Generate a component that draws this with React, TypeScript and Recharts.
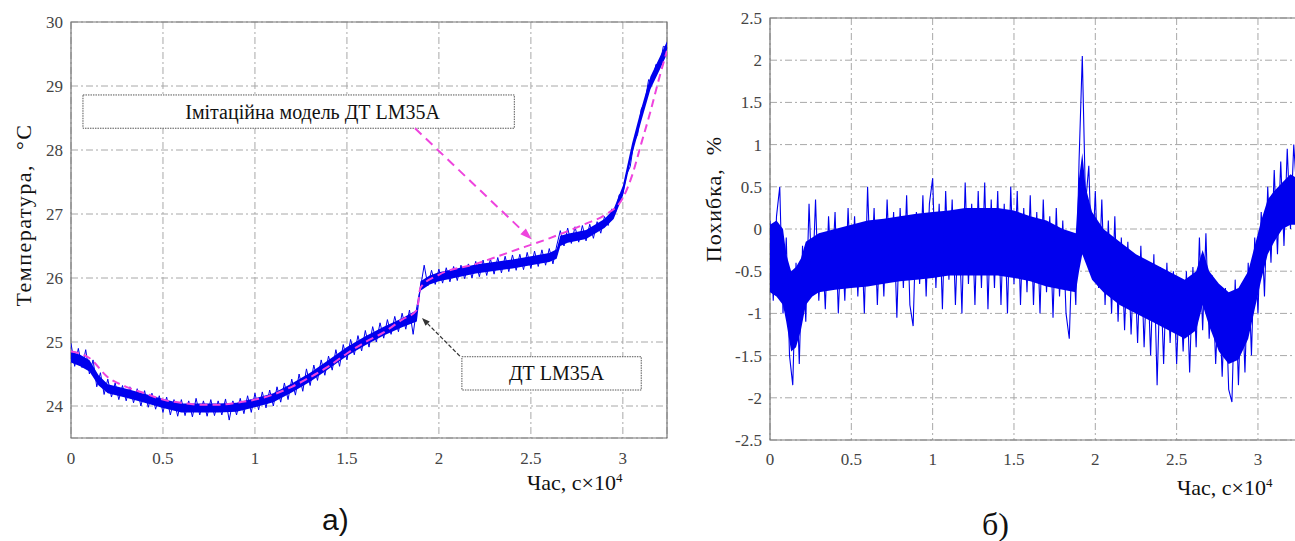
import {
  ComposedChart,
  Line,
  Area,
  XAxis,
  YAxis,
  CartesianGrid,
  ReferenceArea,
  ReferenceLine,
} from 'recharts'

// sampling step of the recorded signals (×10^4 s)
const SAMPLE_STEP = 0.02

const TIME_TICKS = [0, 0.5, 1, 1.5, 2, 2.5, 3]
const TEMP_TICKS = [24, 25, 26, 27, 28, 29, 30]
const ERR_TICKS = [-2.5, -2, -1.5, -1, -0.5, 0, 0.5, 1, 1.5, 2, 2.5]

// measured LM35A temperature, one row = 0.2 ×10^4 s
const measuredTemp = [
  24.98, 24.62, 24.9, 24.6, 24.88, 24.5, 24.72, 24.3, 24.52, 24.18,
  24.42, 24.14, 24.36, 24.1, 24.32, 24.08, 24.3, 24.05, 24.27, 24.0,
  24.24, 23.98, 24.2, 23.95, 24.16, 23.9, 24.14, 23.86, 24.1, 23.84,
  24.1, 23.85, 24.08, 23.83, 24.12, 23.86, 24.08, 23.84, 24.1, 23.85,
  24.08, 23.86, 24.11, 23.78, 24.08, 23.86, 24.12, 23.88, 24.16, 23.9,
  24.2, 23.94, 24.22, 23.97, 24.25, 24.0, 24.3, 24.06, 24.36, 24.1,
  24.42, 24.17, 24.5, 24.23, 24.58, 24.32, 24.64, 24.4, 24.72, 24.48,
  24.78, 24.56, 24.88, 24.62, 24.96, 24.72, 25.04, 24.8, 25.1, 24.86,
  25.18, 24.92, 25.24, 25.0, 25.3, 25.06, 25.35, 25.12, 25.4, 25.16,
  25.45, 25.2, 25.5, 25.12, 25.55, 25.85, 26.2, 25.88, 26.12, 25.9,
  26.14, 25.92, 26.16, 25.94, 26.18, 25.96, 26.2, 25.99, 26.22, 26.0,
  26.26, 26.02, 26.28, 26.04, 26.3, 26.06, 26.32, 26.08, 26.34, 26.1,
  26.36, 26.12, 26.37, 26.13, 26.4, 26.15, 26.42, 26.18, 26.44, 26.2,
  26.46, 26.22, 26.5, 26.74, 26.5, 26.78, 26.54, 26.8, 26.56, 26.82,
  26.58, 26.84, 26.62, 26.88, 26.7, 26.96, 26.82, 27.08, 27.02, 27.3,
  27.32, 27.62, 27.74, 28.12, 28.24, 28.64, 28.74, 29.1, 29.06, 29.34,
  29.3, 29.62, 29.6,
]

// dense core of the measured trace
const measBandTime = [
  0, 0.05, 0.1, 0.15, 0.2, 0.3, 0.4, 0.5, 0.6, 0.7, 0.8, 0.9, 1.0, 1.1, 1.2,
  1.3, 1.4, 1.5, 1.6, 1.7, 1.8, 1.88, 1.9, 1.95, 2.0, 2.2, 2.4, 2.6, 2.64, 2.66,
  2.7, 2.8, 2.9, 2.95, 3.0, 3.05, 3.1, 3.15, 3.2, 3.24,
]
const measBandLow = [
  24.68, 24.62, 24.54, 24.32, 24.2, 24.13, 24.05, 23.97, 23.9, 23.9, 23.9,
  23.91, 23.98, 24.06, 24.21, 24.38, 24.58, 24.78, 24.95, 25.1, 25.23, 25.32,
  25.8, 25.9, 25.95, 26.07, 26.15, 26.25, 26.3, 26.5, 26.55, 26.61, 26.78,
  26.92, 27.28, 27.92, 28.45, 28.95, 29.25, 29.5,
]
const measBandHigh = [
  24.85, 24.8, 24.72, 24.48, 24.34, 24.27, 24.19, 24.11, 24.04, 24.04, 24.04,
  24.05, 24.12, 24.2, 24.35, 24.52, 24.72, 24.92, 25.09, 25.24, 25.37, 25.5,
  25.95, 26.04, 26.09, 26.21, 26.29, 26.39, 26.45, 26.66, 26.69, 26.75, 26.92,
  27.08, 27.44, 28.1, 28.65, 29.15, 29.45, 29.7,
]

// simulation model output
const modelTime = [
  0, 0.1, 0.2, 0.3, 0.4, 0.5, 0.6, 0.7, 0.8, 0.9, 1.0, 1.1, 1.2, 1.3, 1.4, 1.5,
  1.6, 1.7, 1.8, 1.88, 1.9, 2.0, 2.2, 2.4, 2.6, 2.8, 2.9, 3.0, 3.05, 3.1, 3.15,
  3.2, 3.24,
]
const modelTemp = [
  24.85, 24.75, 24.45, 24.3, 24.2, 24.1, 24.05, 24.02, 24.02, 24.05, 24.1,
  24.18, 24.3, 24.45, 24.62, 24.82, 25.0, 25.15, 25.35, 25.5, 25.85, 26.05,
  26.22, 26.42, 26.62, 26.85, 26.98, 27.25, 27.6, 28.1, 28.6, 29.15, 29.55,
]

// error, dense core of the band
const errBandTime = [
  0, 0.04, 0.08, 0.1, 0.13, 0.16, 0.19, 0.22, 0.26, 0.3, 0.4, 0.5, 0.6, 0.7,
  0.8, 0.9, 1.0, 1.1, 1.2, 1.3, 1.4, 1.5, 1.6, 1.7, 1.8, 1.88, 1.9, 1.92, 1.94,
  1.98, 2.05, 2.15, 2.25, 2.35, 2.45, 2.55, 2.62, 2.66, 2.7, 2.76, 2.82, 2.88,
  2.94, 2.98, 3.02, 3.06, 3.1, 3.15, 3.2, 3.24,
]
const errBandLow = [
  -0.75, -0.8, -0.9, -1.1, -1.45, -1.4, -1.2, -0.9, -0.8, -0.75, -0.72, -0.7,
  -0.68, -0.65, -0.62, -0.6, -0.58, -0.55, -0.55, -0.55, -0.55, -0.58, -0.62,
  -0.68, -0.72, -0.75, -0.5, -0.3, -0.4, -0.6, -0.75, -0.9, -1.0, -1.1, -1.2,
  -1.3, -1.2, -0.9, -1.15, -1.45, -1.6, -1.55, -1.3, -0.95, -0.6, -0.3, -0.15,
  0.0, 0.05, 0.05,
]
const errBandHigh = [
  0.05, 0.1, 0.0, -0.3, -0.5, -0.45, -0.35, -0.15, -0.1, -0.05, 0.0, 0.05, 0.1,
  0.12, 0.15, 0.18, 0.2, 0.22, 0.25, 0.25, 0.25, 0.22, 0.15, 0.1, 0.0, -0.05,
  0.6, 0.9, 0.5, 0.2, 0.0, -0.15, -0.3, -0.4, -0.5, -0.6, -0.5, -0.25, -0.5,
  -0.65, -0.75, -0.7, -0.5, -0.2, 0.1, 0.35, 0.45, 0.55, 0.65, 0.6,
]

// error, spikes, one row = 0.2 ×10^4 s
const errSpikes = [
  0.1, -0.85, 0.15, 0.5, -1.0, -0.1, -1.5, -1.85, -0.4, -1.6,
  -0.2, -1.1, 0.3, -0.7, 0.35, -0.85, -0.1, -0.95, 0.15, -0.6,
  0.2, -1.0, -0.05, -0.85, 0.25, -0.7, 0.15, -0.8, 0.05, -1.0,
  0.5, -0.65, 0.25, -0.9, 0.1, -0.8, 0.35, -0.6, 0.2, -1.05,
  0.25, -0.7, 0.4, -0.9, -1.15, 0.2, -0.65, 0.4, -0.8, 0.3,
  0.6, -0.7, 0.3, -0.95, 0.45, -0.6, 0.35, -0.9, 0.2, -1.0,
  0.55, -0.65, 0.3, -0.9, 0.45, -0.7, 0.55, -0.95, 0.35, -0.7,
  0.45, -0.9, 0.3, -1.0, 0.5, -0.65, 0.45, -0.9, 0.25, -0.75,
  0.4, -0.9, 0.2, -1.0, 0.35, -0.75, 0.15, -1.05, 0.25, -0.8,
  0.1, -1.0, -1.3, -0.1, -0.9, 0.8, 2.05, 0.3, 0.75, -0.5,
  0.45, -0.7, 0.35, -0.9, 0.1, -1.0, 0.15, -1.1, -0.1, -1.2,
  -0.15, -1.25, -0.3, -1.35, -0.2, -1.4, -0.4, -1.5, -0.3, -1.85,
  -0.45, -1.6, -0.4, -1.35, -0.5, -1.6, -0.6, -1.45, -0.5, -1.7,
  -0.45, -1.4, -0.1, -1.2, -0.05, -1.3, -0.55, -1.6, -0.7, -1.75,
  -0.7, -1.9, -2.05, -0.6, -1.85, -0.65, -1.7, -0.4, -1.5, -0.1,
  -1.0, 0.2, -0.8, 0.5, -0.4, 0.7, -0.3, 0.8, -0.2, 0.95,
  0.0, 1.0, 0.4,
]

const BLUE = '#0000ee'
const PINK = '#ee44dd'
const GRID = '#a8a8a8'
const FRAME = '#777'
const SERIF = 'Liberation Serif'

const measuredData = measuredTemp.map((v, i) => ({ t: +(i * SAMPLE_STEP).toFixed(2), v }))
const measBandData = measBandTime.map((t, i) => ({ t, range: [measBandLow[i], measBandHigh[i]] }))
const modelData = modelTime.map((t, i) => ({ t, v: modelTemp[i] }))
const errBandData = errBandTime.map((t, i) => ({ t, range: [errBandLow[i], errBandHigh[i]] }))
const spikeData = errSpikes.map((v, i) => ({ t: +(i * SAMPLE_STEP).toFixed(2), v }))

const serifStyle = { fontFamily: SERIF }

function XTick(props: any) {
  const { x, y, payload } = props
  return (
    <text x={x} y={y} dy={12} textAnchor="middle" fill="#444" fontSize={17} fontFamily={SERIF} style={serifStyle}>
      {payload.value}
    </text>
  )
}

function YTick(props: any) {
  const { x, y, payload } = props
  return (
    <text x={x} y={y} dy={6} textAnchor="end" fill="#444" fontSize={17} fontFamily={SERIF} style={serifStyle}>
      {payload.value}
    </text>
  )
}

function BoxLabel(props: any) {
  const { viewBox, text, dx = 0 } = props
  if (!viewBox) return null
  return (
    <text
      x={viewBox.x + viewBox.width / 2 + dx}
      y={viewBox.y + viewBox.height / 2}
      dy={7}
      textAnchor="middle"
      fill="#111"
      fontSize={20}
      fontFamily={SERIF}
      style={serifStyle}
    >
      {text}
    </text>
  )
}

function Arrow(props: any) {
  const { x1, y1, x2, y2, stroke, strokeWidth, strokeDasharray, len = 10, half = 3.5 } = props
  const a = Math.atan2(y2 - y1, x2 - x1)
  const bx = x2 - len * Math.cos(a)
  const by = y2 - len * Math.sin(a)
  const pts = `${x2},${y2} ${bx - half * Math.sin(a)},${by + half * Math.cos(a)} ${bx + half * Math.sin(a)},${by - half * Math.cos(a)}`
  return (
    <g>
      <line x1={x1} y1={y1} x2={bx} y2={by} stroke={stroke} strokeWidth={strokeWidth} strokeDasharray={strokeDasharray} />
      <polygon points={pts} fill={stroke} />
    </g>
  )
}

function TemperatureChart() {
  return (
    <ComposedChart width={700} height={541} margin={{ top: 22, right: 33, bottom: 73, left: 0 }}>
      <CartesianGrid stroke={GRID} strokeDasharray="7 3 2 3" />
      <XAxis
        dataKey="t"
        type="number"
        domain={[0, 3.24]}
        ticks={TIME_TICKS}
        allowDataOverflow
        tickLine={false}
        axisLine={false}
        tickMargin={8}
        height={30}
        tick={<XTick />}
      />
      <YAxis
        type="number"
        domain={[23.5, 30]}
        ticks={TEMP_TICKS}
        allowDataOverflow
        tickLine={false}
        axisLine={false}
        width={71}
        tick={<YTick />}
      />
      <ReferenceArea x1={0} x2={3.24} y1={23.5} y2={30} fill="none" stroke={FRAME} strokeWidth={1.2} />
      <Area data={measBandData} dataKey="range" type="linear" stroke="none" fill={BLUE} fillOpacity={1} isAnimationActive={false} />
      <Line data={measuredData} dataKey="v" type="linear" stroke={BLUE} strokeWidth={1} dot={false} isAnimationActive={false} />
      <Line data={modelData} dataKey="v" type="monotone" stroke={PINK} strokeWidth={2} strokeDasharray="8 5" dot={false} isAnimationActive={false} />
      <ReferenceArea
        x1={0.065}
        x2={2.41}
        y1={28.34}
        y2={28.86}
        fill="#fff"
        fillOpacity={1}
        stroke="#555"
        strokeDasharray="1.5 1"
        label={<BoxLabel text="Імітаційна модель ДТ LM35A" dx={14} />}
      />
      <ReferenceLine
        segment={[{ x: 1.87, y: 28.34 }, { x: 2.505, y: 26.6 }]}
        stroke={PINK}
        strokeWidth={2}
        strokeDasharray="9 6"
        shape={(p: any) => <Arrow {...p} len={12} half={4} />}
      />
      <ReferenceArea
        x1={2.125}
        x2={3.1}
        y1={24.25}
        y2={24.77}
        fill="#fff"
        fillOpacity={1}
        stroke="#555"
        strokeDasharray="1.5 1"
        label={<BoxLabel text="ДТ LM35A" dx={5} />}
      />
      <ReferenceLine
        segment={[{ x: 2.114, y: 24.78 }, { x: 1.908, y: 25.375 }]}
        stroke="#333"
        strokeWidth={1.2}
        strokeDasharray="4 2"
        shape={(p: any) => <Arrow {...p} len={8} half={3} />}
      />
    </ComposedChart>
  )
}

function ErrorChart() {
  return (
    <ComposedChart width={600} height={541} margin={{ top: 18, right: 3, bottom: 71, left: 0 }}>
      <CartesianGrid stroke={GRID} strokeDasharray="7 3 2 3" />
      <XAxis
        dataKey="t"
        type="number"
        domain={[0, 3.24]}
        ticks={TIME_TICKS}
        allowDataOverflow
        tickLine={false}
        axisLine={false}
        tickMargin={7}
        height={30}
        tick={<XTick />}
      />
      <YAxis
        type="number"
        domain={[-2.5, 2.5]}
        ticks={ERR_TICKS}
        allowDataOverflow
        tickLine={false}
        axisLine={false}
        width={70}
        tick={<YTick />}
      />
      <ReferenceArea x1={0} x2={3.24} y1={-2.5} y2={2.5} fill="none" stroke={FRAME} strokeWidth={1.2} />
      <Area data={errBandData} dataKey="range" type="linear" stroke="none" fill={BLUE} fillOpacity={1} isAnimationActive={false} />
      <Line data={spikeData} dataKey="v" type="linear" stroke={BLUE} strokeWidth={1.1} dot={false} isAnimationActive={false} />
    </ComposedChart>
  )
}

const abs = (left: number, top: number, extra: any = {}) => ({
  position: 'absolute' as const,
  left,
  top,
  whiteSpace: 'nowrap' as const,
  color: '#111',
  lineHeight: 1,
  ...extra,
})

export default function App() {
  return (
    <div
      style={{
        position: 'absolute',
        left: 0,
        top: 0,
        width: 1295,
        height: 541,
        overflow: 'hidden',
        background: '#fff',
        fontFamily: SERIF,
      }}
    >
      <div style={{ position: 'absolute', left: 0, top: 0 }}>
        <TemperatureChart />
      </div>
      <div style={{ position: 'absolute', left: 700, top: 0 }}>
        <ErrorChart />
      </div>

      <div
        style={abs(24, 215, {
          fontSize: 22,
          letterSpacing: 1.5,
          transform: 'translate(-50%, -50%) rotate(-90deg)',
        })}
      >
        Температура,&nbsp;&nbsp;°С
      </div>
      <div style={abs(527, 471, { fontSize: 22 })}>
        Час, с×10<sup style={{ fontSize: 13 }}>4</sup>
      </div>
      <div style={abs(322, 505, { fontSize: 30, fontFamily: 'Liberation Sans' })}>а)</div>

      <div
        style={abs(714, 199, {
          fontSize: 22,
          letterSpacing: 1,
          transform: 'translate(-50%, -50%) rotate(-90deg)',
        })}
      >
        Похибка,&nbsp;&nbsp;%
      </div>
      <div style={abs(1177, 476, { fontSize: 22 })}>
        Час, с×10<sup style={{ fontSize: 13 }}>4</sup>
      </div>
      <div style={abs(982, 508, { fontSize: 32 })}>б)</div>
    </div>
  )
}
